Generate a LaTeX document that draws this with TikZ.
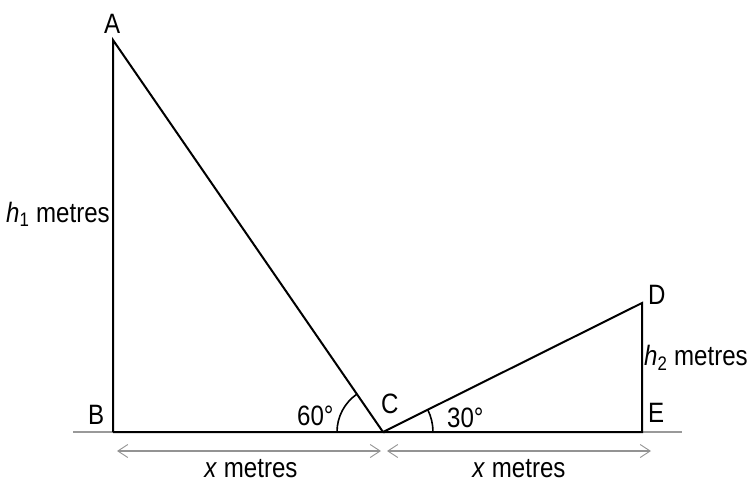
\documentclass[tikz,border=0pt]{standalone}
\usepackage{fontspec}
\setmainfont{Liberation Sans}[FakeStretch=0.86]
\usetikzlibrary{arrows.meta}
\begin{document}
\begin{tikzpicture}[x=1pt,y=-1pt,
  edge/.style={line width=2pt,black},
  ground/.style={line width=2pt,color=gray!80},
  dim/.style={line width=1.2pt,color=gray!85,{Straight Barb[length=10pt,width=13pt,line width=0.9pt]}-{Straight Barb[length=10pt,width=13pt,line width=0.9pt]}},
  lbl/.style={inner sep=0pt,anchor=base west,font=\fontsize{28}{32}\selectfont},
  arcline/.style={line width=1.6pt,black}]
\useasboundingbox (0,0) rectangle (753,483);
\coordinate (A) at (113,40);
\coordinate (B) at (113,432);
\coordinate (C) at (383,432);
\coordinate (D) at (642,303);
\coordinate (E) at (642,432);
\coordinate (G1) at (73,432);
\coordinate (G2) at (682,432);
\coordinate (L1) at (117,451);
\coordinate (L2) at (381,451);
\coordinate (R1) at (387,451);
\coordinate (R2) at (651,451);
% ground
\draw[ground] (G1) -- (G2);
% triangles
\draw[edge,line join=miter] (B) -- (A) -- (C) -- (B);
\draw[edge,line join=miter] (C) -- (D) -- (E) -- (C);
% angle arcs
\draw[arcline] ([xshift=-46pt]C) arc[start angle=180,end angle={180-55.4},radius=46pt];
\draw[arcline] ([xshift=50pt]C) arc[start angle=0,end angle=26.5,radius=50pt];
% dimension arrows
\draw[dim] (L1) -- (L2);
\draw[dim] (R1) -- (R2);
% labels
\node[lbl] (lA) at (104,33) {A};
\node[lbl] (lB) at (88,424) {B};
\node[lbl] (lC) at (381,413) {C};
\node[lbl] (lD) at (648,304) {D};
\node[lbl] (lE) at (648,422) {E};
\node[lbl] (l60) at (297,425) {60°};
\node[lbl] (l30) at (447,427) {30°};
\node[lbl] (lh1) at (6,222) {\textit{h}\textsubscript{1} metres};
\node[lbl] (lh2) at (644,365) {\textit{h}\textsubscript{2} metres};
\node[lbl,anchor=base] (lx1) at (251,477) {\textit{x} metres};
\node[lbl,anchor=base] (lx2) at (519,477) {\textit{x} metres};
\end{tikzpicture}
\end{document}
